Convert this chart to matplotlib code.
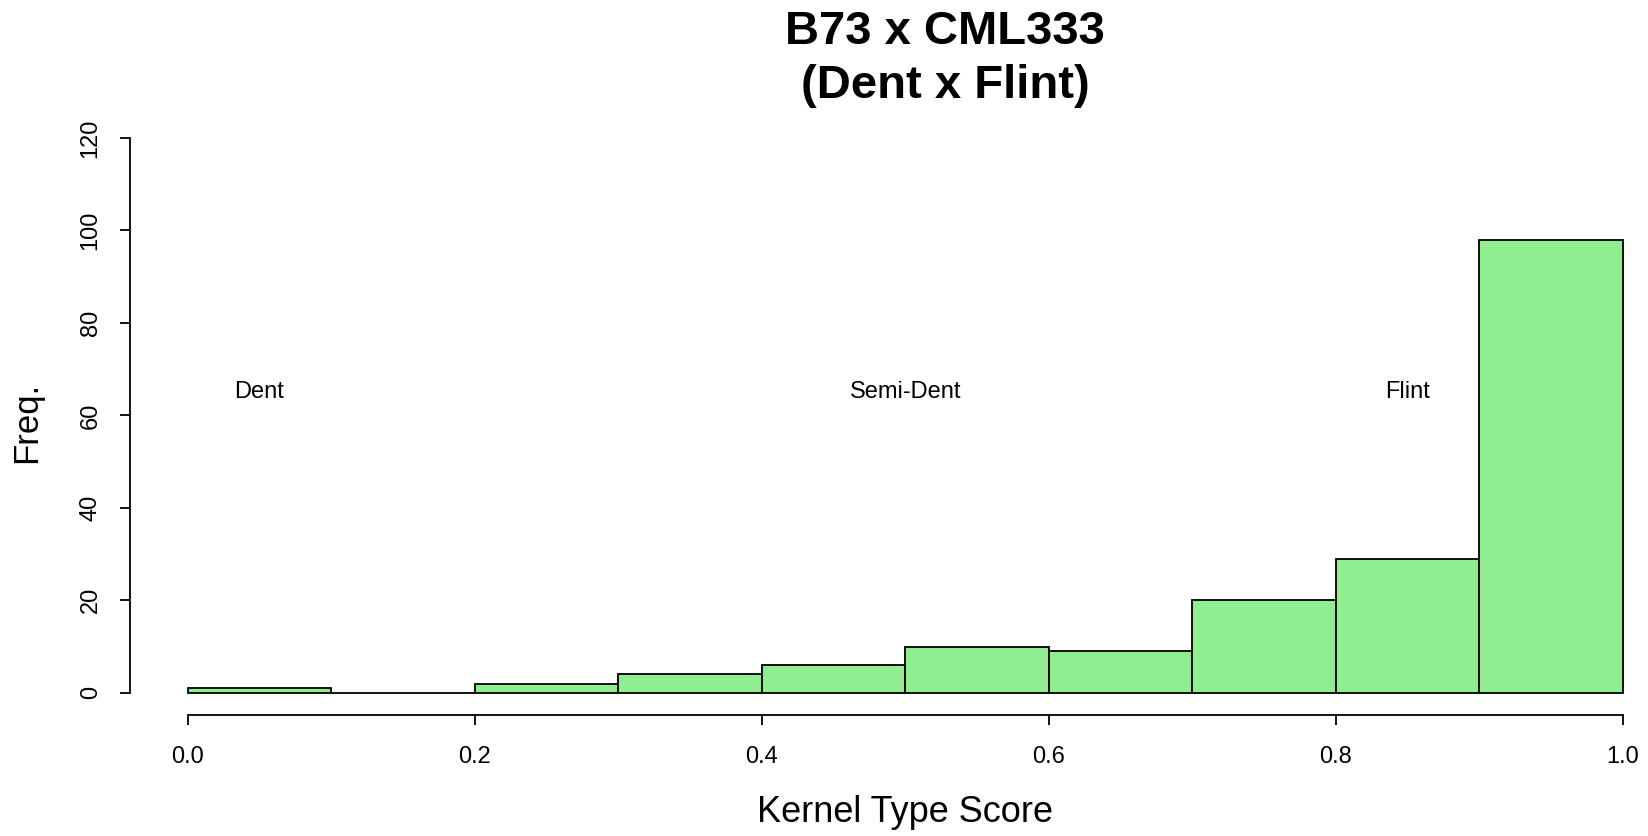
import numpy as np
import matplotlib
matplotlib.use("Agg")
import matplotlib.pyplot as plt

# histogram data
bin_edges = [0.0, 0.1, 0.2, 0.3, 0.4, 0.5, 0.6, 0.7, 0.8, 0.9, 1.0]
counts = [1, 0, 2, 4, 6, 10, 9, 20, 29, 98]

# category labels placed inside the plot
region_names = ["Dent", "Semi-Dent", "Flint"]
region_x = [0.05, 0.5, 0.85]
region_y = 65

x_ticks = [0.0, 0.2, 0.4, 0.6, 0.8, 1.0]
y_ticks = [0, 20, 40, 60, 80, 100, 120]

plt.rcParams['font.family'] = ['Liberation Sans', 'DejaVu Sans']

fig = plt.figure(figsize=(16.48, 8.36), dpi=100)
# R-style plot region (4% padding), it runs a bit past the right edge
ax = fig.add_axes([0.079, 0.1447, 0.9405, 0.717])

widths = np.diff(bin_edges)
ax.bar(bin_edges[:-1], counts, width=widths, align='edge',
       color='#90EE90', edgecolor='black', linewidth=1.3)

for name, xx in zip(region_names, region_x):
    ax.text(xx, region_y, name, ha='center', va='center', fontsize=17)

ax.set_xlim(-0.04, 1.04)
ax.set_ylim(-4.8, 124.8)

ax.spines['top'].set_visible(False)
ax.spines['right'].set_visible(False)
ax.spines['bottom'].set_bounds(0, 1)
ax.spines['left'].set_bounds(0, 120)
ax.spines['bottom'].set_linewidth(1.3)
ax.spines['left'].set_linewidth(1.3)

ax.set_xticks(x_ticks)
ax.set_xticklabels([f"{t:.1f}" for t in x_ticks])
ax.set_yticks(y_ticks)
ax.set_yticklabels([str(t) for t in y_ticks], rotation=90, va='center')
ax.tick_params(axis='both', length=7.5, width=1.3, labelsize=17)
ax.tick_params(axis='x', pad=15)
ax.tick_params(axis='y', pad=13)

ax.set_xlabel("Kernel Type Score", fontsize=26, va='center')
ax.xaxis.set_label_coords(0.5, -0.162)
ax.set_ylabel("Freq.", fontsize=25, va='center')
ax.yaxis.set_label_coords(-0.067, 0.488)

fig.text(0.5734, 1 - 31.5 / 836, "B73 x CML333", ha='center', va='center',
         fontsize=34, fontweight='bold')
fig.text(0.5734, 1 - 86 / 836, "(Dent x Flint)", ha='center', va='center',
         fontsize=34, fontweight='bold')

plt.savefig("out.png", dpi=100)
